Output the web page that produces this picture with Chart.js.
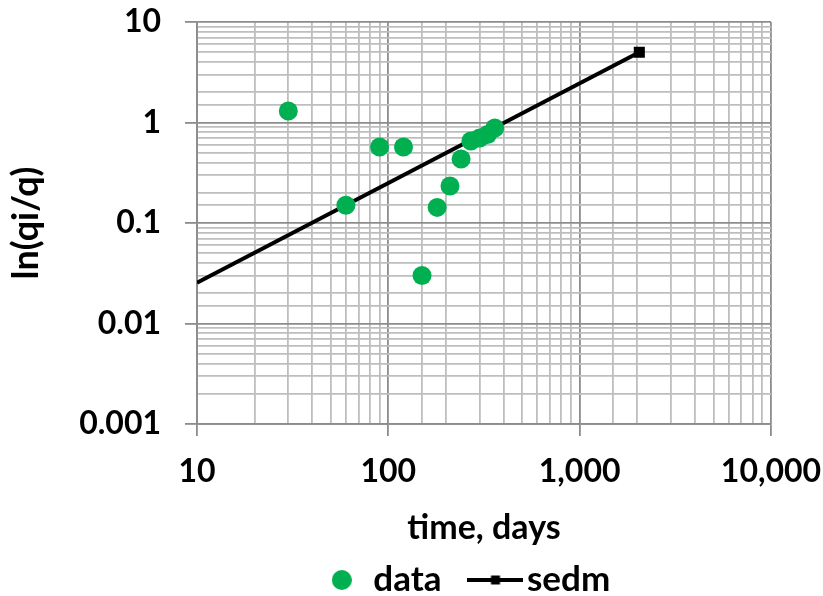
<!DOCTYPE html>
<html>
<head>
<meta charset="utf-8">
<script src="https://cdn.jsdelivr.net/npm/chart.js@4/dist/chart.umd.min.js"></script>
<style>
  html, body { margin: 0; padding: 0; background: #fff; }
  #wrap { width: 823px; height: 596px; position: relative; }
</style>
</head>
<body>
<div id="wrap"><canvas id="c" width="823" height="596"></canvas></div>
<script>
// Monthly observations: time (days) and ln(qi/q)
const timeDays = [30, 60, 90, 120, 150, 180, 210, 240, 270, 300, 330, 360];
const lnRatio  = [1.30, 0.15, 0.57, 0.57, 0.030, 0.143, 0.233, 0.433, 0.655, 0.70, 0.76, 0.88];

// SEDM model line (start and end of the fitted curve)
const sedmTime  = [10, 2050];
const sedmValue = [0.0255, 5.0];

// Decade labels shown on the axes
const xTickLabels = { 10: '10', 100: '100', 1000: '1,000', 10000: '10,000' };
const yTickLabels = { 10: '10', 1: '1', 0.1: '0.1', 0.01: '0.01', 0.001: '0.001' };

const GREEN = '#00b050';
const FONT = 'Lato';
const MAJOR_GRID = '#8c8c8c';
const MINOR_GRID = '#bebebe';

function isDecade(v) {
  const l = Math.log10(v);
  return Math.abs(l - Math.round(l)) < 1e-6;
}
function decadeKey(v) { return Math.pow(10, Math.round(Math.log10(v))); }

// Legend glyphs
function circleGlyph() {
  const c = document.createElement('canvas');
  c.width = 20; c.height = 20;
  const g = c.getContext('2d');
  g.fillStyle = GREEN;
  g.beginPath(); g.arc(10, 10, 10, 0, Math.PI * 2); g.fill();
  return c;
}
function lineGlyph() {
  const c = document.createElement('canvas');
  c.width = 56; c.height = 10;
  const g = c.getContext('2d');
  g.fillStyle = '#000';
  g.fillRect(0, 3, 56, 4);
  g.fillRect(23.5, 0.5, 9, 9);
  return c;
}

// Moves the legend row a little to the left of the plot centre
const legendNudge = {
  id: 'legendNudge',
  afterLayout(chart) {
    if (chart.legend) { chart.legend.left -= 15; chart.legend.right -= 15; }
  }
};

const gridOpts = {
  color: ctx => (ctx.tick && isDecade(ctx.tick.value)) ? MAJOR_GRID : MINOR_GRID,
  tickColor: ctx => (ctx.tick && isDecade(ctx.tick.value)) ? MAJOR_GRID : 'rgba(0,0,0,0)',
  lineWidth: 1.8,
  tickLength: 12,
  drawTicks: true
};

new Chart(document.getElementById('c'), {
  data: {
    datasets: [
      {
        type: 'scatter',
        label: 'data',
        data: timeDays.map((t, i) => ({ x: t, y: lnRatio[i] })),
        backgroundColor: GREEN,
        borderWidth: 0,
        pointRadius: 9.5,
        pointHoverRadius: 9.5
      },
      {
        type: 'line',
        label: 'sedm',
        data: sedmTime.map((t, i) => ({ x: t, y: sedmValue[i] })),
        borderColor: '#000',
        backgroundColor: '#000',
        borderWidth: 4,
        pointStyle: 'rect',
        pointRadius: [0, 5],
        pointHoverRadius: [0, 5],
        fill: false,
        tension: 0
      }
    ]
  },
  options: {
    responsive: false,
    animation: false,
    events: [],
    layout: { padding: { left: 0, right: 52, top: 22, bottom: -11.5 } },
    scales: {
      x: {
        type: 'logarithmic',
        min: 10,
        max: 10000,
        grid: gridOpts,
        border: { color: MAJOR_GRID, width: 1.8 },
        ticks: {
          autoSkip: false,
          maxRotation: 0,
          padding: 16,
          color: '#000',
          font: { family: FONT, size: 32, weight: 'bold' },
          callback: v => isDecade(v) ? xTickLabels[decadeKey(v)] : ''
        },
        title: {
          display: true,
          text: 'time, days',
          color: '#000',
          font: { family: FONT, size: 34, weight: 'bold' },
          padding: { top: 0, bottom: -26 }
        },
        afterFit: s => { s.height = 98.5; s.paddingLeft = 0; s.paddingRight = 0; }
      },
      y: {
        type: 'logarithmic',
        min: 0.001,
        max: 10,
        grid: gridOpts,
        border: { color: MAJOR_GRID, width: 1.8 },
        ticks: {
          autoSkip: false,
          padding: 24,
          color: '#000',
          font: { family: FONT, size: 32, weight: 'bold' },
          callback: v => isDecade(v) ? yTickLabels[decadeKey(v)] : ''
        },
        title: {
          display: true,
          text: 'ln(qi/q)',
          color: '#000',
          font: { family: FONT, size: 36, weight: 'bold' },
          padding: { top: 5, bottom: 0 }
        },
        afterFit: s => { s.width = 197; s.paddingTop = 0; s.paddingBottom = 0; }
      }
    },
    plugins: {
      tooltip: { enabled: false },
      legend: {
        position: 'bottom',
        fullSize: false,
        labels: {
          usePointStyle: true,
          boxHeight: 28,
          boxWidth: 28,
          padding: 40,
          color: '#000',
          font: { family: FONT, size: 35, weight: 'bold' },
          generateLabels: () => [
            { text: 'data', pointStyle: circleGlyph(), fillStyle: GREEN, strokeStyle: GREEN, lineWidth: 0, datasetIndex: 0, hidden: false },
            { text: 'sedm', pointStyle: lineGlyph(), fillStyle: '#000', strokeStyle: '#000', lineWidth: 0, datasetIndex: 1, hidden: false }
          ]
        }
      }
    }
  },
  plugins: [legendNudge]
});
</script>
</body>
</html>
